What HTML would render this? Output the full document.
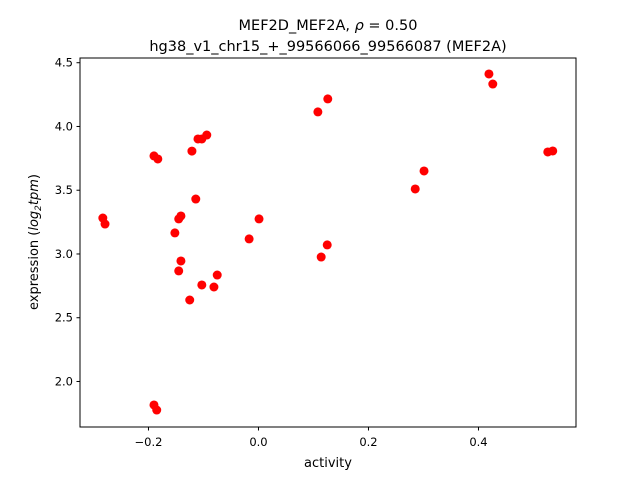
<!DOCTYPE html>
<html><head><meta charset="utf-8"><style>
body{margin:0;background:#fff;font-family:"Liberation Sans","DejaVu Sans",sans-serif}
svg text{font-family:"DejaVu Sans","Liberation Sans",sans-serif}
</style></head><body>
<svg id="c" width="640" height="480" xmlns="http://www.w3.org/2000/svg">
<rect width="640" height="480" fill="#fff"/>
<text x="328" y="30" text-anchor="middle" font-size="14.5">MEF2D_MEF2A, <tspan font-style="italic">ρ</tspan> = 0.50</text>
<text x="328" y="51" text-anchor="middle" font-size="14.5">hg38_v1_chr15_+_99566066_99566087 (MEF2A)</text>
<g id="marks"></g>
<rect x="80" y="58" width="496" height="369" fill="none" stroke="#000" stroke-width="1"/>
<g id="axes"></g>
<text x="328" y="467" text-anchor="middle" font-size="13">activity</text>
<text transform="translate(38,242) rotate(-90)" text-anchor="middle" font-size="13">expression (<tspan font-style="italic">log</tspan><tspan font-style="italic" font-size="9" dy="3">2</tspan><tspan font-style="italic" dy="-3">tpm</tspan>)</text>
</svg>
<script>
const activity=[-0.283,-0.279,-0.190,-0.183,-0.121,-0.110,-0.103,-0.094,-0.114,-0.141,-0.145,-0.152,-0.141,-0.145,-0.075,-0.081,-0.103,-0.125,-0.190,-0.185,-0.017,0.001,0.108,0.126,0.114,0.125,0.285,0.301,0.419,0.426,0.526,0.535];
const expression=[3.282,3.235,3.769,3.745,3.807,3.902,3.902,3.933,3.431,3.298,3.275,3.165,2.945,2.867,2.835,2.741,2.757,2.639,1.816,1.776,3.118,3.275,4.114,4.216,2.976,3.071,3.510,3.651,4.412,4.333,3.800,3.808];
const xTicks=[-0.2,0.0,0.2,0.4];
const xTickLabels=["−0.2","0.0","0.2","0.4"];
const yTicks=[2.0,2.5,3.0,3.5,4.0,4.5];
const yTickLabels=["2.0","2.5","3.0","3.5","4.0","4.5"];
const X0=80,X1=576,Y0=427,Y1=58,xmin=-0.3245,xmax=0.5773,ymin=1.643,ymax=4.537;
const sx=v=>X0+(v-xmin)/(xmax-xmin)*(X1-X0);
const sy=v=>Y0-(v-ymin)/(ymax-ymin)*(Y0-Y1);
const NS="http://www.w3.org/2000/svg";
const marks=document.getElementById('marks'),axes=document.getElementById('axes');
activity.forEach((a,i)=>{
const c=document.createElementNS(NS,'circle');
c.setAttribute('cx',sx(a));c.setAttribute('cy',sy(expression[i]));c.setAttribute('r',4.5);c.setAttribute('fill','#ff0000');


marks.appendChild(c);});
xTicks.forEach((t,i)=>{const x=sx(t);
const l=document.createElementNS(NS,'line');l.setAttribute('x1',x);l.setAttribute('x2',x);l.setAttribute('y1',427);l.setAttribute('y2',430.5);l.setAttribute('stroke','#000');


axes.appendChild(l);
const tx=document.createElementNS(NS,'text');tx.setAttribute('x',x);tx.setAttribute('y',446);tx.setAttribute('text-anchor','middle');tx.setAttribute('font-size','11.5');tx.textContent=xTickLabels[i];


axes.appendChild(tx);});
yTicks.forEach((t,i)=>{const y=sy(t);
const l=document.createElementNS(NS,'line');l.setAttribute('x1',76.5);l.setAttribute('x2',80);l.setAttribute('y1',y);l.setAttribute('y2',y);l.setAttribute('stroke','#000');


axes.appendChild(l);
const tx=document.createElementNS(NS,'text');tx.setAttribute('x',73);tx.setAttribute('y',y+4);tx.setAttribute('text-anchor','end');tx.setAttribute('font-size','11.5');tx.textContent=yTickLabels[i];


axes.appendChild(tx);});
</script>
</body></html>
